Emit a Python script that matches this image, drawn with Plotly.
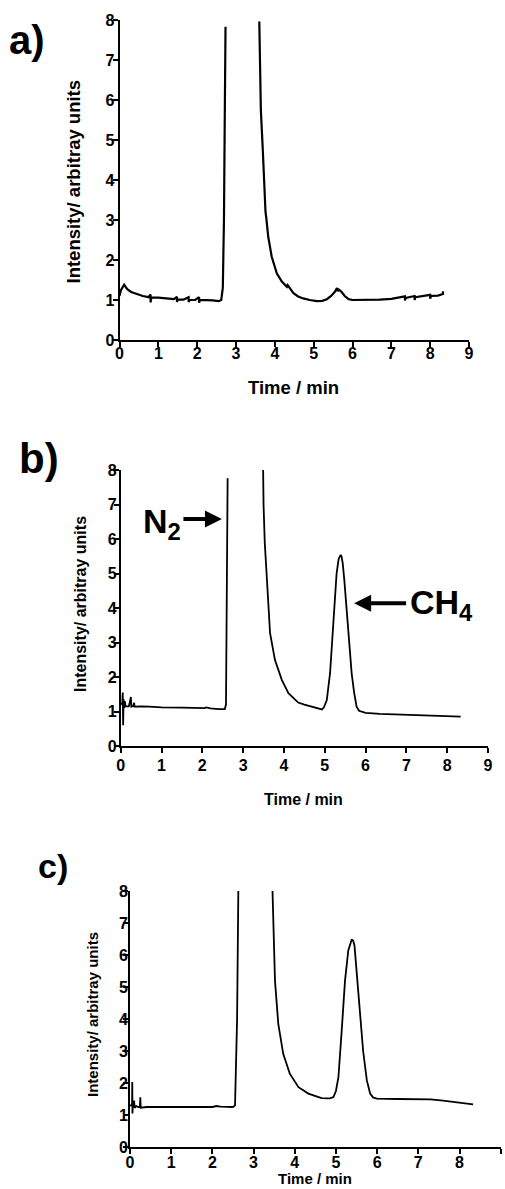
import plotly.graph_objects as go

W, H = 505, 1189

# ---------------- data ----------------
# panel a
time_a = [0.0, 0.04, 0.12, 0.2, 0.3, 0.45, 0.6, 0.75, 0.8, 0.8, 0.82, 1.0, 1.2, 1.4, 1.48, 1.48, 1.5,
          1.65, 1.78, 1.78, 1.8, 1.95, 2.05, 2.05, 2.07, 2.2, 2.4, 2.55, 2.62, 2.66, 2.69, 2.71, 2.73,
          3.1, 3.60, 3.64, 3.69, 3.72, 3.76, 3.78, 3.83, 3.92, 4.05, 4.18, 4.31, 4.33, 4.48, 4.6, 4.73,
          4.9, 5.08, 5.22, 5.34, 5.45, 5.55, 5.6, 5.62, 5.65, 5.72, 5.8, 5.9, 6.0, 6.3, 6.7, 7.0,
          7.35, 7.35, 7.37, 7.6, 7.6, 7.62, 8.0, 8.0, 8.02, 8.2, 8.33, 8.33]
int_a = [1.1, 1.25, 1.38, 1.27, 1.2, 1.14, 1.1, 1.07, 1.14, 0.94, 1.06, 1.06, 1.04, 1.02, 1.08, 0.95, 1.01,
         1.01, 1.07, 0.95, 1.0, 1.0, 1.07, 0.93, 1.0, 1.0, 0.99, 0.97, 1.0, 1.3, 3.0, 5.5, 7.83,
         None, 7.96, 5.75, 4.75, 3.92, 3.2, 3.05, 2.58, 2.08, 1.67, 1.46, 1.33, 1.37, 1.17, 1.09, 1.04,
         1.0, 0.97, 0.98, 1.02, 1.1, 1.21, 1.3, 1.22, 1.26, 1.2, 1.1, 1.02, 1.0, 1.0, 1.01, 1.03,
         1.09, 0.99, 1.05, 1.1, 1.0, 1.07, 1.13, 1.03, 1.1, 1.11, 1.15, 1.22]

# panel b
time_b = [0.0, 0.04, 0.05, 0.06, 0.07, 0.09, 0.1, 0.12, 0.2, 0.25, 0.26, 0.3, 0.33, 0.34, 0.5, 0.7,
          1.0, 1.5, 1.9, 2.05, 2.1, 2.2, 2.4, 2.55, 2.58, 2.6, 2.62,
          3.0, 3.49, 3.50, 3.53, 3.58, 3.66, 3.78, 3.95, 4.11, 4.35, 4.5, 4.68, 4.85,
          4.93, 4.98, 5.05, 5.13, 5.21, 5.29, 5.34, 5.37, 5.39, 5.41, 5.44, 5.48, 5.52, 5.56,
          5.59, 5.63, 5.66, 5.72, 5.78, 5.84, 5.9, 6.0, 6.35, 7.0, 7.5, 8.0, 8.33]
int_b = [1.2, 1.25, 1.55, 0.6, 1.35, 1.1, 1.3, 1.15, 1.15, 1.42, 1.14, 1.15, 1.25, 1.14, 1.15, 1.14,
         1.12, 1.11, 1.09, 1.1, 1.12, 1.09, 1.07, 1.07, 1.2, 3.5, 7.76,
         None, 8.0, 7.0, 5.9, 4.8, 3.27, 2.49, 1.91, 1.53, 1.26, 1.2, 1.14, 1.08,
         1.06, 1.12, 1.33, 2.11, 3.56, 5.0, 5.42, 5.53, 5.54, 5.5, 5.3, 4.8, 4.2, 3.6,
         3.07, 2.5, 2.1, 1.55, 1.14, 1.02, 0.99, 0.96, 0.93, 0.9, 0.88, 0.86, 0.85]

# panel c
time_c = [0.0, 0.05, 0.055, 0.06, 0.07, 0.09, 0.1, 0.11, 0.15, 0.2, 0.24, 0.25, 0.26, 0.4, 1.0, 1.5,
          2.0, 2.1, 2.2, 2.5, 2.55, 2.6, 2.63,
          3.0, 3.46, 3.48, 3.52, 3.60, 3.72, 3.88, 4.09, 4.33, 4.65, 4.85, 4.94, 5.0, 5.06, 5.14,
          5.22, 5.30, 5.35, 5.38, 5.40, 5.42, 5.45, 5.49, 5.58, 5.66, 5.75, 5.83, 5.9, 5.99,
          6.5, 7.0, 7.3, 7.6, 8.0, 8.33]
int_c = [1.3, 1.3, 2.03, 1.05, 1.35, 1.25, 1.45, 1.22, 1.28, 1.25, 1.25, 1.55, 1.23, 1.25, 1.25, 1.25,
         1.25, 1.28, 1.26, 1.25, 1.3, 4.0, 8.0,
         None, 8.0, 6.76, 5.2, 3.85, 2.91, 2.29, 1.87, 1.67, 1.53, 1.52, 1.56, 1.75, 2.18, 3.64,
         5.2, 6.14, 6.4, 6.47, 6.47, 6.44, 6.3, 5.72, 4.16, 3.0, 2.08, 1.67, 1.55, 1.51,
         1.5, 1.5, 1.49, 1.45, 1.39, 1.33]

x_ticks = [0, 1, 2, 3, 4, 5, 6, 7, 8, 9]
y_ticks = [0, 1, 2, 3, 4, 5, 6, 7, 8]
x_title = "Time / min"
y_title = "Intensity/ arbitray units"
panel_labels = ["a)", "b)", "c)"]

FONT = "Liberation Sans"

fig = go.Figure()
for i, (tx, iy, lw) in enumerate([(time_a, int_a, 2.2), (time_b, int_b, 1.8), (time_c, int_c, 1.8)]):
    sfx = "" if i == 0 else str(i + 1)
    fig.add_trace(go.Scatter(x=tx, y=iy, mode="lines", line=dict(color="black", width=lw),
                             xaxis="x" + sfx, yaxis="y" + sfx, showlegend=False, hoverinfo="skip"))

# plot areas in pixels: (left, right, top, bottom)
areas = [(119.5, 469, 20, 340), (120.7, 488, 470, 746), (130, 500.7, 891, 1147)]
x_standoff = [-7, -1, -5]
y_standoff = [-5, -6, -8]

tick_font = dict(family=FONT, size=16, color="black", weight=700)


def ax_style(rng, ticks, lw, so):
    return dict(range=rng, tickvals=ticks, ticktext=["<b>%d</b>" % t for t in ticks],
                showline=True, linecolor="black", linewidth=lw, ticks="outside", ticklen=5,
                tickwidth=lw, tickcolor="black", showgrid=False, zeroline=False, fixedrange=True,
                automargin=False, tickfont=tick_font, ticklabelstandoff=so)


layout = dict(width=W, height=H, margin=dict(l=0, r=0, t=0, b=0, autoexpand=False),
              paper_bgcolor="white", plot_bgcolor="white", showlegend=False,
              font=dict(family=FONT, size=16, color="black", weight=700))
for i, (l, r, t, b) in enumerate(areas):
    sfx = "" if i == 0 else str(i + 1)
    lw = 2 if i == 0 else 1.8
    xa = ax_style([0, 9], x_ticks, lw, x_standoff[i])
    xa.update(domain=[l / W, r / W], anchor="y" + sfx)
    ya = ax_style([0, 8], y_ticks, lw, y_standoff[i])
    ya.update(domain=[1 - b / H, 1 - t / H], anchor="x" + sfx)
    layout["xaxis" + sfx] = xa
    layout["yaxis" + sfx] = ya
fig.update_layout(**layout)


def ann_px(text, px, py, size, angle=0, xanchor="center", yanchor="middle"):
    fig.add_annotation(text=text, x=px / W, y=1 - py / H, xref="paper", yref="paper",
                       xanchor=xanchor, yanchor=yanchor, showarrow=False, textangle=angle,
                       font=dict(family=FONT, size=size, color="black", weight=700))


# axis titles
ann_px(y_title, 72.5, 182, 18.5, -90)
ann_px(x_title, 293.5, 387, 18.5)
ann_px(y_title, 80, 604, 16, -90)
ann_px(x_title, 303, 799, 16)
ann_px(y_title, 92, 1015, 15, -90)
ann_px(x_title, 315, 1189, 15, yanchor="bottom")

# panel labels
ann_px(panel_labels[0], 7, 40, 40, xanchor="left")
ann_px(panel_labels[1], 17, 459, 42, xanchor="left")
ann_px(panel_labels[2], 36, 866, 34, xanchor="left")

# peak labels with arrows (panel b)
fig.add_annotation(text="N<sub>2</sub>", x=0.5, y=6.45, xref="x2", yref="y2", xanchor="left",
                   yanchor="middle", showarrow=False,
                   font=dict(family=FONT, size=34, color="black", weight=700))
fig.add_annotation(text="", x=2.48, y=6.58, ax=1.50, ay=6.58, xref="x2", yref="y2",
                   axref="x2", ayref="y2", showarrow=True, arrowhead=2, arrowsize=0.85,
                   arrowwidth=4, arrowcolor="black")
fig.add_annotation(text="CH<sub>4</sub>", x=7.03, y=4.1, xref="x2", yref="y2", xanchor="left",
                   yanchor="middle", showarrow=False,
                   font=dict(family=FONT, size=34, color="black", weight=700))
fig.add_annotation(text="", x=5.72, y=4.14, ax=7.03, ay=4.14, xref="x2", yref="y2",
                   axref="x2", ayref="y2", showarrow=True, arrowhead=2, arrowsize=0.85,
                   arrowwidth=4, arrowcolor="black")

fig.write_html("out.html", config={"displayModeBar": False},
               post_script="document.body.style.margin='0px';")
